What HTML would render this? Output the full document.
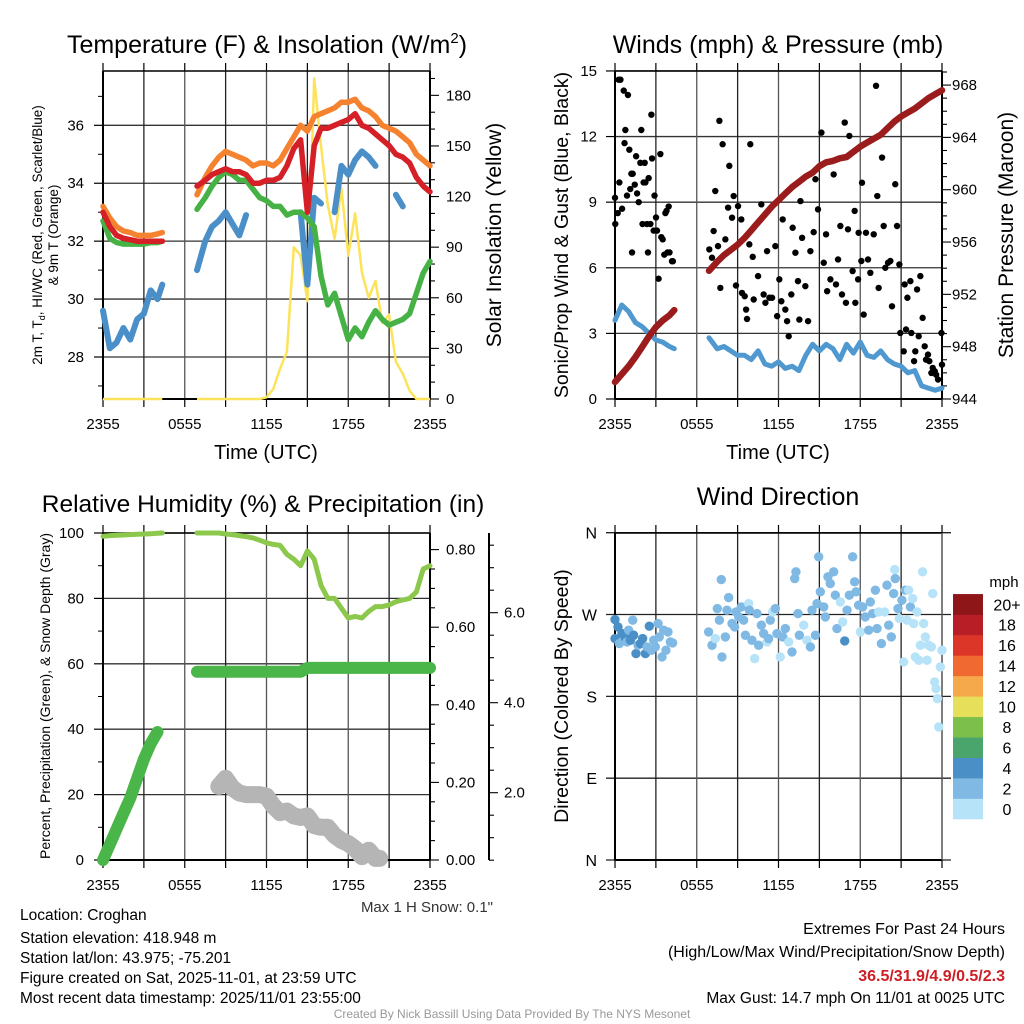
<!DOCTYPE html>
<html><head><meta charset="utf-8"><style>
html,body{margin:0;padding:0;background:#fff;}
svg{display:block;font-family:"Liberation Sans",Arial,sans-serif;}
</style></head><body>
<svg id="chart" width="1024" height="1024" viewBox="0 0 1024 1024" xmlns="http://www.w3.org/2000/svg"></svg>
<script>
// ---------- DATA ----------
const timeLabels = ['2355','0555','1155','1755','2355'];
const hours = [0,0.5,1,1.5,2,2.5,3,3.5,4,4.35,
  6.9,7.5,8,8.5,9,9.5,10,10.5,11,11.5,12,12.5,13,13.5,14,14.5,15,15.5,16,16.5,17,17.5,18,18.5,19,19.5,20,20.5,21,21.5,22,22.5,23,23.5,24];
const temp9m = [33.2,32.8,32.5,32.35,32.3,32.2,32.2,32.2,32.25,32.3,
  33.6,34.2,34.6,34.9,35.1,35.0,34.9,34.8,34.6,34.7,34.7,34.6,34.8,35.2,35.6,36.0,35.8,36.3,36.4,36.5,36.6,36.8,36.8,36.9,36.6,36.5,36.3,36.0,35.9,35.8,35.6,35.4,35.0,34.8,34.6];
const temp2m = [33.0,32.5,32.2,32.1,32.05,32.0,32.0,32.0,32.0,32.0,
  33.9,34.1,34.3,34.4,34.5,34.4,34.4,34.3,34.0,34.0,34.1,34.1,34.2,34.6,35.2,35.5,33.0,35.3,35.9,35.9,36.0,36.1,36.2,36.4,36.0,35.9,35.7,35.5,35.3,35.0,34.9,34.7,34.2,33.9,33.7];
const dewpoint = [32.7,32.1,31.95,31.9,31.9,31.9,31.9,31.95,31.95,32.0,
  33.1,33.5,33.9,34.2,34.4,34.3,34.1,34.1,33.8,33.5,33.4,33.2,33.2,32.9,33.0,33.0,32.8,32.5,30.8,29.8,30.2,29.4,28.6,29.0,28.7,29.2,29.6,29.3,29.1,29.2,29.3,29.5,30.2,30.9,31.3];
const windChill = [29.6,28.3,28.5,29.0,28.6,29.3,29.5,30.3,30.0,30.5,
  31.0,32.0,32.5,32.7,33.0,32.6,32.2,32.9,null,null,null,null,null,null,null,33.0,30.5,33.5,33.3,null,33.0,34.6,34.3,34.8,35.1,34.9,34.6,null,null,33.6,33.2,null,null,null,null];
const solar = [0,0,0,0,0,0,0,0,0,0,
  0,0,0,0,0,0,0,0,0,0,1,6,18,28,90,85,58,190,150,115,95,125,85,110,75,60,70,45,50,22,15,5,0,0,0];
const windSpeed = [3.6,4.3,4.0,3.5,3.3,3.0,2.7,2.6,2.4,2.3,
  2.8,2.3,2.4,2.2,2.0,2.0,1.8,2.2,1.6,1.5,1.7,1.4,1.5,1.3,2.0,2.5,2.2,2.5,2.3,1.8,2.5,2.1,2.6,2.0,1.9,2.2,1.8,1.6,1.5,1.2,1.3,0.6,0.5,0.4,0.5];
const pressure = [945.3,945.9,946.5,947.2,948.0,948.8,949.5,950.0,950.4,950.8,
  953.8,954.5,955.0,955.4,955.8,956.3,956.9,957.5,958.1,958.7,959.2,959.7,960.2,960.6,961.0,961.3,961.8,962.1,962.2,962.4,962.5,962.9,963.3,963.6,963.9,964.2,964.7,965.2,965.6,965.9,966.2,966.6,967.0,967.3,967.6];
const humidity = [99.0,99.2,99.3,99.4,99.5,99.6,99.7,99.8,99.9,100,
  100,100,100,100,99.7,99.5,99.2,98.9,98.5,97.8,97.0,96.5,96.2,93.5,92,90,94.5,92,84,80,80,77,74,74.5,74,76,77.5,77.5,78,79,79.5,80,82,89,90];
const precip = [0,0.04,0.08,0.12,0.16,0.21,0.26,0.30,0.33,null,
  0.485,0.485,0.485,0.485,0.485,0.485,0.485,0.485,0.485,0.485,0.485,0.485,0.485,0.485,0.485,0.485,0.495,0.495,0.495,0.495,0.495,0.495,0.495,0.495,0.495,0.495,0.495,0.495,0.495,0.495,0.495,0.495,0.495,0.495,0.495];
const snowHours = [8.5,9,9.5,10,10.5,11,11.5,12,12.5,13,13.5,14,14.5,15,15.5,16,16.5,17,17.5,18,18.5,19,19.5,20,20.3];
const snowDepth = [2.25,2.5,2.2,2.05,2.0,2.0,2.0,1.95,1.65,1.45,1.5,1.35,1.3,1.35,1.05,1.0,1.0,0.75,0.6,0.5,0.35,0.1,0.3,0.05,0.05];
const gustHours = [0,0.02,0.2,0.27,0.4,0.32,0.52,0.64,0.7,0.76,0.88,0.95,1.05,1.12,1.2,1.25,1.3,1.45,1.55,1.62,1.74,1.86,1.93,2.02,2.1,2.18,2.23,2.35,2.42,2.47,2.6,2.67,2.72,2.84,2.9,3.01,3.08,3.2,3.33,3.4,3.5,3.62,3.7,3.78,3.85,3.94,4.0,4.18,4.25,
  6.92,7.12,7.24,7.36,7.56,7.66,7.73,7.9,8.1,8.3,8.39,8.59,8.71,8.88,9.03,9.27,9.32,9.52,9.62,9.69,9.86,9.93,10.11,10.18,10.5,10.74,10.91,11.04,11.16,11.33,11.53,11.77,11.9,12.06,12.21,12.31,12.5,12.63,12.75,12.94,13.04,13.24,13.43,13.53,13.61,13.73,13.97,14.17,14.34,14.58,14.71,14.9,15.15,15.32,15.49,15.57,15.81,16.05,16.22,16.37,16.54,16.66,16.86,16.95,17.1,17.2,17.44,17.59,17.64,17.84,17.88,18.08,18.13,18.25,18.42,18.57,18.74,18.99,19.16,19.25,19.35,19.6,19.72,19.84,20.04,20.21,20.33,20.57,20.7,20.87,20.94,21.19,21.26,21.36,21.46,21.68,21.75,21.95,22.04,22.17,22.29,22.41,22.58,22.73,22.83,22.97,23.07,23.22,23.32,23.47,23.57,23.71,23.96,24.0];
const gustMph = [9.2,8.0,8.5,14.6,14.6,9.9,8.7,14.1,11.7,12.3,9.3,13.9,11.4,9.6,10.3,6.7,10.3,9.8,11.1,9.4,9.0,10.8,12.3,8.0,9.9,10.8,9.9,8.0,6.7,10.1,8.0,13.0,11.0,7.7,9.3,8.3,7.7,5.5,11.2,7.4,7.3,6.6,8.5,8.6,6.7,8.8,6.7,6.3,6.3,
  6.84,6.46,7.68,9.51,6.99,12.72,5.08,11.65,7.3,8.75,10.66,8.29,9.28,5.19,8.82,8.21,4.85,4.70,4.09,3.66,7.07,11.65,6.5,4.55,5.62,8.9,4.78,4.40,6.76,4.63,4.63,6.99,3.79,5.47,4.47,8.21,4.09,3.56,2.87,4.78,7.83,6.69,5.39,3.63,9.05,7.37,5.16,3.56,6.76,7.63,10.05,8.67,12.18,6.23,7.53,4.93,5.47,10.27,5.24,6.38,7.91,4.78,12.64,4.40,7.76,12.03,5.85,8.6,4.40,5.47,7.6,6.31,9.89,3.86,7.6,6.38,5.77,7.53,14.32,9.28,5.08,11.04,7.91,6.0,6.23,6.31,4.24,9.82,7.91,6.15,3.02,2.18,5.24,3.18,4.63,5.39,3.02,1.73,2.18,5.01,2.87,5.62,3.71,2.41,1.80,2.03,1.73,1.19,1.42,1.27,1.11,0.89,3.02,1.57];
const dirHours = [0,0,0.22,0.32,0.51,0.71,0.88,1.0,1.13,1.3,1.37,1.54,1.69,1.86,2.03,2.23,2.35,2.52,2.67,2.84,2.96,3.16,3.25,3.45,3.57,3.74,3.89,4.06,4.23,
  6.87,7.12,7.36,7.51,7.66,7.8,7.85,8.1,8.22,8.34,8.59,8.78,8.88,9.08,9.27,9.44,9.57,9.81,9.86,10.05,10.25,10.42,10.54,10.74,10.91,11.16,11.28,11.4,11.57,11.77,11.89,12.13,12.31,12.5,12.75,12.99,13.19,13.28,13.43,13.53,13.85,14.09,14.34,14.46,14.71,14.83,14.95,15.07,15.32,15.44,15.63,15.8,16.05,16.17,16.29,16.54,16.71,16.86,17.03,17.2,17.44,17.59,17.69,17.88,18.01,18.18,18.37,18.62,18.74,18.91,19.11,19.23,19.35,19.55,19.79,19.96,20.09,20.28,20.45,20.53,20.57,20.77,20.87,21.06,21.19,21.31,21.43,21.55,21.68,21.85,21.92,22.04,22.17,22.29,22.41,22.58,22.65,22.78,22.9,23.02,23.22,23.32,23.46,23.56,23.66,23.76,23.88,24.0];
const dirDeg = [264.5,243.6,256.4,238.1,249.1,245.4,239.9,252.8,241.7,263.8,247.2,227.1,236.2,238.1,243.6,227.1,234.4,257.2,230.7,241.7,234.4,260.1,245.4,223.4,252.8,230.7,250.9,239.9,238.8,
  250.9,236.2,243.6,276.6,263.8,308.5,223.4,245.4,274.8,288.7,260.1,256.4,272.9,267.4,278.4,263.8,247.2,282.1,274.8,241.7,221.6,271.1,236.2,258.3,249.1,239.9,243.6,263.8,272.9,276.6,249.1,223.4,245.4,254.6,239.9,228.9,309.6,317.0,271.1,247.2,258.3,241.7,234.4,274.8,247.2,282.1,333.5,295.0,278.4,267.4,311.5,304.1,317.0,291.3,254.6,283.9,261.9,241.0,274.8,291.3,333.5,306.0,295.0,280.3,250.9,278.4,267.4,252.8,283.9,271.1,296.8,254.6,272.9,238.1,272.9,302.3,258.3,245.4,293.1,319.5,309.6,276.6,265.6,285.8,217.9,296.8,263.8,296.8,278.4,287.6,260.1,223.4,272.9,219.7,236.2,317.0,260.1,245.4,219.7,236.2,234.4,293.1,195.9,188.5,177.5,146.3,212.4,230.7];
const dirSpeed = [4.5,4.2,4.3,3.8,4.0,4.1,3.9,3.6,4.0,2.5,4.2,4.0,3.8,4.1,4.2,4.0,3.2,4.4,3.5,2.8,2.8,2.6,2.5,2.7,2.4,2.6,2.2,2.6,2.5,
  2.5,2.5,1.8,2.6,2.5,2.6,2.6,2.6,2.4,2.5,2.4,2.5,2.6,2.5,2.7,2.5,2.3,1.5,2.4,2.6,1.5,2.5,2.6,2.5,2.6,1.5,2.5,2.6,1.8,2.6,2.5,1.8,2.5,2.7,1.8,2.5,2.7,2.7,2.6,2.5,1.8,1.7,2.5,2.6,2.4,2.5,2.8,2.7,2.5,2.3,2.6,2.7,2.8,2.5,2.6,1.8,1.6,4.2,2.5,2.7,2.7,2.6,2.5,2.6,1.7,2.6,2.4,2.5,2.6,2.5,2.6,2.7,1.5,2.5,1.7,2.6,2.4,2.7,2.7,1.3,2.6,2.5,1.6,2.5,1.6,2.5,1.5,1.3,2.5,1.4,1.4,1.2,1.5,1.3,1.4,1.2,1.3,1.4,1.3,1.2,1.3,1.2,1.3,1.1,1.0,1.4,1.3,1.8];
const speedBins = ['0','2','4','6','8','10','12','14','16','18','20+'];
const speedColors = ['#b6e3f8','#7fb9e4','#4a8fc6','#4aa56c','#7cc04b','#e6df5a','#f6a94a','#ef6930','#dc3629','#b81e25','#8e1619'];

// ---------- HELPERS ----------
const NS='http://www.w3.org/2000/svg';
const svg=document.getElementById('chart');
function el(tag,attrs,parent){const e=document.createElementNS(NS,tag);for(const k in attrs)e.setAttribute(k,attrs[k]);(parent||svg).appendChild(e);return e;}
function txt(x,y,s,size,anchor,parent,extra){const t=el('text',Object.assign({x:x,y:y,'font-size':size,'text-anchor':anchor||'start',fill:'#000'},extra||{}),parent);t.textContent=s;return t;}
function group(name){const g=el('g',{});return g;}
function seriesPath(ts,vs,xf,yf){let d='',pen=false,prevT=null;
  for(let i=0;i<ts.length;i++){const v=vs[i];if(v===null||v===undefined){pen=false;continue;}
    if(pen&&prevT!==null&&ts[i]-prevT>1.2)pen=false;
    const x=xf(ts[i]).toFixed(1),y=yf(v).toFixed(1);
    if(!pen){d+='M'+x+' '+y+' L'+x+' '+y+' ';pen=true;}else d+='L'+x+' '+y+' ';
    prevT=ts[i];}
  return d;}
const HX=13.625;
function xAxisFrame(g,left,top,bottom,right){
  for(let k=0;k<=8;k++){const x=left+k*3*HX;
    el('line',{x1:x,y1:top,x2:x,y2:bottom,stroke:k%2?'#222':'#555','stroke-width':1.3},g);
    el('line',{x1:x,y1:bottom,x2:x,y2:bottom+8,stroke:'#000','stroke-width':1.2},g);
    el('line',{x1:x,y1:top-8,x2:x,y2:top,stroke:'#000','stroke-width':1.2},g);}
  for(let k=0;k<timeLabels.length;k++){const t=txt(left+k*6*HX,bottom+30,timeLabels[k],15,'middle',g);
    }
  el('line',{x1:left,y1:top,x2:right,y2:top,stroke:'#000','stroke-width':1.5},g);
  el('line',{x1:left,y1:bottom,x2:right,y2:bottom,stroke:'#000','stroke-width':2},g);
  el('line',{x1:left,y1:top,x2:left,y2:bottom,stroke:'#000','stroke-width':2},g);
}
function rotText(x,y,s,size,parent){const t=txt(0,0,s,size,'middle',parent);t.setAttribute('transform','translate('+x+','+y+') rotate(-90)');return t;}

// ---------- PANEL 1 ----------
(function(){
  const L=103,R=430,T=71,B=399;
  const xf=h=>L+h*HX, yT=v=>357-(v-28)*28.96, yS=v=>399-v*1.687;
  const g=group('temperature-panel');
  const tt=txt(267,53,'',25,'middle',g);tt.innerHTML='Temperature (F) &amp; Insolation (W/m<tspan dy="-10" font-size="15">2</tspan><tspan dy="10">)</tspan>';
  
  const grid=group('temperature-grid');g.appendChild(grid);
  for(let v=28;v<=36;v+=2){el('line',{x1:L,y1:yT(v),x2:R,y2:yT(v),stroke:'#333','stroke-width':1.3},grid);
    el('line',{x1:L-9,y1:yT(v),x2:L,y2:yT(v),stroke:'#000','stroke-width':1.2},grid);
    const lb=txt(84,yT(v)+5,String(v),15,'end',grid);}
  for(let v=27;v<=37;v+=2)el('line',{x1:L-5,y1:yT(v),x2:L,y2:yT(v),stroke:'#000'},grid);
  xAxisFrame(grid,L,T,B,R);
  el('line',{x1:R,y1:T,x2:R,y2:B,stroke:'#000','stroke-width':2},grid);
  for(let v=0;v<=190;v+=10){const maj=v%30===0;el('line',{x1:R,y1:yS(v),x2:R+(maj?9:5),y2:yS(v),stroke:'#000','stroke-width':1.1},grid);
    if(maj){const lb=txt(446,yS(v)+5,String(v),15,'start',grid);}}
  const p1=el('path',{d:seriesPath(hours,solar,xf,yS),fill:'none',stroke:'#fde35a','stroke-width':2.5,'stroke-linejoin':'round'},g);
  
  const p2=el('path',{d:seriesPath(hours,windChill,xf,yT),fill:'none',stroke:'#4b8fc9','stroke-width':6,'stroke-linecap':'round','stroke-linejoin':'round'},g);
  
  const p3=el('path',{d:seriesPath(hours,dewpoint,xf,yT),fill:'none',stroke:'#46b246','stroke-width':5.5,'stroke-linecap':'round','stroke-linejoin':'round'},g);
  
  const p4=el('path',{d:seriesPath(hours,temp9m,xf,yT),fill:'none',stroke:'#f5822f','stroke-width':5.5,'stroke-linecap':'round','stroke-linejoin':'round'},g);
  
  const p5=el('path',{d:seriesPath(hours,temp2m,xf,yT),fill:'none',stroke:'#d52027','stroke-width':5.5,'stroke-linecap':'round','stroke-linejoin':'round'},g);
  
  const yl=txt(0,0,'',13.5,'middle',g);yl.setAttribute('transform','translate(42,235) rotate(-90)');
  yl.innerHTML='2m T, T<tspan dy="3" font-size="9">d</tspan><tspan dy="-3">, HI/WC (Red, Green, Scarlet/Blue)</tspan>';
  
  const yl2=rotText(58,235,'& 9m T (Orange)',13.5,g);
  const yr=rotText(501,235,'Solar Insolation (Yellow)',21,g);
  const xt=txt(266,459,'Time (UTC)',20,'middle',g);
})();

// ---------- PANEL 2 ----------
(function(){
  const L=615,R=942,T=71,B=399;
  const xf=h=>L+h*HX, yW=v=>399-v*21.87, yP=v=>399-(v-944)*13.08;
  const g=group('wind-pressure-panel');
  const tt=txt(778,53,'Winds (mph) & Pressure (mb)',25,'middle',g);
  const grid=group('wind-grid');g.appendChild(grid);
  for(let v=0;v<=15;v+=3){el('line',{x1:L,y1:yW(v),x2:R,y2:yW(v),stroke:'#333','stroke-width':1.3},grid);
    el('line',{x1:L-9,y1:yW(v),x2:L,y2:yW(v),stroke:'#000','stroke-width':1.2},grid);
    const lb=txt(597,yW(v)+5,String(v),15,'end',grid);}
  xAxisFrame(grid,L,T,B,R);
  el('line',{x1:R,y1:T,x2:R,y2:B,stroke:'#000','stroke-width':2},grid);
  for(let v=944;v<=969;v+=1){const maj=v%4===0;el('line',{x1:R,y1:yP(v),x2:R+(maj?9:5),y2:yP(v),stroke:'#000','stroke-width':1.1},grid);
    if(maj){const lb=txt(952,yP(v)+5,String(v),15,'start',grid);}}
  const pw=el('path',{d:seriesPath(hours,windSpeed,xf,yW),fill:'none',stroke:'#5098d0','stroke-width':5,'stroke-linecap':'round','stroke-linejoin':'round'},g);
  
  const gg=group('gust-points');g.appendChild(gg);
  for(let i=0;i<gustHours.length;i++){const c=el('circle',{cx:xf(gustHours[i]),cy:yW(gustMph[i]),r:3.2,fill:'#000'},gg);
    
    }
  const pp=el('path',{d:seriesPath(hours,pressure,xf,yP),fill:'none',stroke:'#9b1c1c','stroke-width':6.5,'stroke-linecap':'round','stroke-linejoin':'round'},g);
  
  const yl=rotText(568,235,'Sonic/Prop Wind & Gust (Blue, Black)',19.5,g);
  const yr=rotText(1013,235,'Station Pressure (Maroon)',21,g);
  const xt=txt(778,459,'Time (UTC)',20,'middle',g);
})();

// ---------- PANEL 3 ----------
(function(){
  const L=103,R=430,T=533,B=860;
  const xf=h=>L+h*HX, yRH=v=>860-v*3.27, yPr=v=>860-v*388, yGray=v=>860-v*10*3.27, ySn=v=>882.7-v*45;
  const g=group('humidity-panel');
  const tt=txt(263,512,'Relative Humidity (%) & Precipitation (in)',24.5,'middle',g);
  const grid=group('humidity-grid');g.appendChild(grid);
  for(let v=0;v<=100;v+=20){el('line',{x1:L,y1:yRH(v),x2:R,y2:yRH(v),stroke:'#333','stroke-width':1.3},grid);
    el('line',{x1:L-9,y1:yRH(v),x2:L,y2:yRH(v),stroke:'#000','stroke-width':1.2},grid);
    const lb=txt(84,yRH(v)+5,String(v),15,'end',grid);}
  for(let v=10;v<=90;v+=20)el('line',{x1:L-5,y1:yRH(v),x2:L,y2:yRH(v),stroke:'#000'},grid);
  xAxisFrame(grid,L,T,B,R);
  el('line',{x1:R,y1:T,x2:R,y2:B,stroke:'#000','stroke-width':2},grid);
  for(let i=0;i<=16;i++){const v=i*0.05,maj=i%4===0;el('line',{x1:R,y1:yPr(v),x2:R+(maj?9:5),y2:yPr(v),stroke:'#000','stroke-width':1.1},grid);
    if(maj){const lb=txt(446,yPr(v)+5,v.toFixed(2),15,'start',grid);}}
  el('line',{x1:489,y1:533,x2:489,y2:860,stroke:'#000','stroke-width':2},grid);
  for(let i=1;i<=15;i++){const v=i*0.5,y=ySn(v);if(y<533)break;const maj=i%4===0;
    el('line',{x1:489,y1:y,x2:489+(maj?9:5),y2:y,stroke:'#000','stroke-width':1.1},grid);
    if(maj){const lb=txt(504,y+5,v.toFixed(1),15,'start',grid);}}
  const ps=el('path',{d:seriesPath(snowHours,snowDepth,xf,yGray),fill:'none',stroke:'#b5b5b5','stroke-width':17,'stroke-linecap':'round','stroke-linejoin':'round'},g);
  
  const pr=el('path',{d:seriesPath(hours,precip,xf,yPr),fill:'none',stroke:'#4ab548','stroke-width':12,'stroke-linecap':'round','stroke-linejoin':'round'},g);
  
  const ph=el('path',{d:seriesPath(hours,humidity,xf,yRH),fill:'none',stroke:'#8cc84b','stroke-width':5,'stroke-linecap':'round','stroke-linejoin':'round'},g);
  
  const yl=rotText(50,696,'Percent, Precipitation (Green), & Snow Depth (Gray)',14,g);
  const sn=txt(493,912,'Max 1 H Snow: 0.1"',15,'end',g,{fill:'#333'});
})();

// ---------- PANEL 4 ----------
(function(){
  const L=615,R=942,T=533,B=860;
  const xf=h=>L+h*HX, yD=v=>860-v/360*327.3;
  const g=group('wind-direction-panel');
  const tt=txt(778,505,'Wind Direction',25,'middle',g);
  const grid=group('direction-grid');g.appendChild(grid);
  const dirLabels=['N','E','S','W','N'];
  for(let k=0;k<5;k++){const y=yD(k*90);el('line',{x1:L-9,y1:y,x2:R+9,y2:y,stroke:'#222','stroke-width':1.3},grid);
    const lb=txt(597,y+6,dirLabels[k],16,'end',grid);}
  xAxisFrame(grid,L,T,B,R);
  el('line',{x1:R,y1:T,x2:R,y2:B,stroke:'#555','stroke-width':1.3},grid);
  const pg=group('direction-points');g.appendChild(pg);
  for(let i=0;i<dirHours.length;i++){const bin=Math.min(10,Math.floor(dirSpeed[i]/2));
    const c=el('circle',{cx:xf(dirHours[i]),cy:yD(dirDeg[i]),r:4.7,fill:speedColors[bin]},pg);
    
    }
  const yl=rotText(568,696,'Direction (Colored By Speed)',19.5,g);
  const lg=group('speed-colorbar');g.appendChild(lg);
  const bh=20.45;
  for(let k=0;k<speedBins.length;k++){const y0=819-bh*(k+1);
    const r=el('rect',{x:953,y:y0,width:30,height:bh+0.3,fill:speedColors[k]},lg);
    
    
    const lb=txt(1007,y0+bh/2+6,speedBins[k],16,'middle',lg);
    
    }
  const mp=txt(1004,587,'mph',15,'middle',lg);
})();

// ---------- FOOTER ----------
(function(){
  const g=group('station-info');
  const lines=['Location: Croghan','Station elevation: 418.948 m','Station lat/lon: 43.975; -75.201','Figure created on Sat, 2025-11-01, at 23:59 UTC','Most recent data timestamp: 2025/11/01 23:55:00'];
  const ys=[920,943,963,983,1003];
  for(let i=0;i<lines.length;i++){const t=txt(20,ys[i],lines[i],15.5,'start',g);}
  const g2=group('extremes-info');
  const t1=txt(1005,934,'Extremes For Past 24 Hours',16,'end',g2);
  const t2=txt(1005,957,'(High/Low/Max Wind/Precipitation/Snow Depth)',16,'end',g2);
  const t3=txt(1005,981,'36.5/31.9/4.9/0.5/2.3',16,'end',g2,{fill:'#cc1f26','font-weight':'bold'});
  const t4=txt(1005,1003,'Max Gust: 14.7 mph On 11/01 at 0025 UTC',15.5,'end',g2);
  const cr=txt(512,1018,'Created By Nick Bassill Using Data Provided By The NYS Mesonet',12,'middle',svg,{fill:'#999'});
})();
</script>
</body></html>
